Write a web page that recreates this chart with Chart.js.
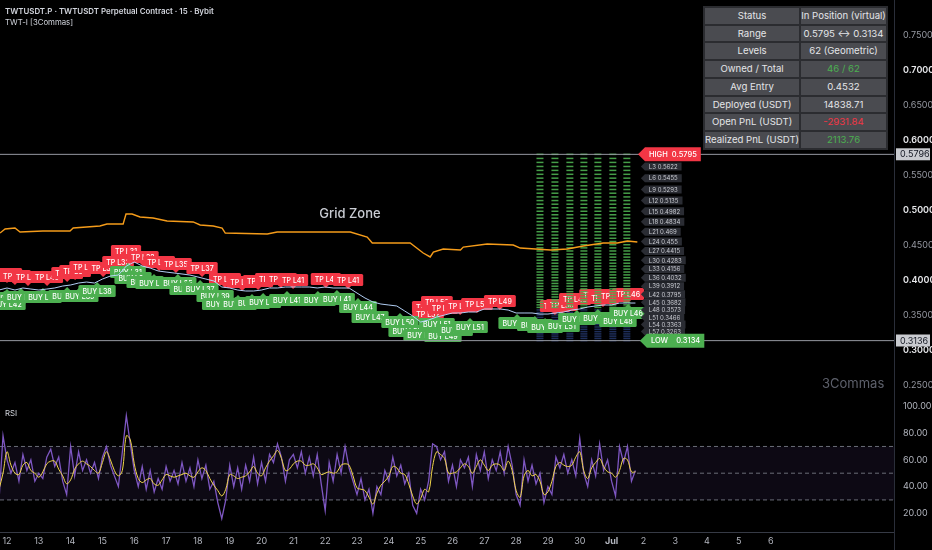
<!DOCTYPE html>
<html>
<head>
<meta charset="utf-8">
<script src="https://cdn.jsdelivr.net/npm/chart.js@4.4.1/dist/chart.umd.min.js"></script>
<style>
html, body { margin:0; padding:0; background:#000; }
#wrap { position:relative; width:932px; height:550px; overflow:hidden; background:#000; font-family:Inter, "Noto Sans", sans-serif; }
#priceCv { position:absolute; left:0; top:0; }
#rsiCv { position:absolute; left:0; top:393px; }
.txt { position:absolute; white-space:nowrap; color:#d1d4dc; }
#stats { position:absolute; left:703px; top:6px; border-collapse:separate; border-spacing:2px; background:#2b2c30; font-size:9.6px; color:#e4e5e8; table-layout:fixed; }
#stats td { background:#4a4b50; text-align:center; height:15.7px; padding:0; line-height:15.7px; white-space:nowrap; overflow:hidden; }
#stats td:first-child { width:94px; }
#stats td:last-child { width:84px; }
</style>
</head>
<body>
<div id="wrap">
  <canvas id="priceCv" width="932" height="393"></canvas>
  <canvas id="rsiCv" width="932" height="157"></canvas>
  <div class="txt" style="left:5px;top:6px;font-size:7.9px;font-weight:600;">TWTUSDT.P · TWTUSDT Perpetual Contract · 15 · Bybit</div>
  <div class="txt" style="left:5px;top:17px;font-size:7.8px;">TWT-I [3Commas]</div>
  <div class="txt" style="left:5px;top:408px;font-size:7.8px;">RSI</div>
  <div class="txt" style="left:822px;top:375px;font-size:13px;color:#5d606b;">3Commas</div>
  <table id="stats"></table>
</div>
<script>
// ---- data ----
// x values are days of June (31 = Jul 1)
var priceStart = 11.75, priceStep = 0.25;
var priceVals = [0.3857,0.3886,0.3857,0.3886,0.3871,0.3857,0.3871,0.3886,0.3914,0.3929,
  0.3957,0.3971,0.3957,0.4014,0.4057,0.4071,0.4200,0.4257,0.4200,0.4171,
  0.4129,0.4114,0.4100,0.4086,0.4071,0.4043,0.4014,0.3986,0.3900,0.3886,
  0.3857,0.3843,0.3843,0.3857,0.3886,0.3886,0.3900,0.3900,0.3900,0.3900,
  0.3886,0.3900,0.3886,0.3886,0.3886,0.3814,0.3743,0.3686,0.3657,0.3643,
  0.3629,0.3557,0.3486,0.3400,0.3429,0.3471,0.3500,0.3529,0.3529,0.3543,
  0.3543,0.3586,0.3586,0.3586,0.3571,0.3529,0.3529,0.3529,0.3514,0.3514,
  0.3529,0.3543,0.3571,0.3586,0.3614,0.3629,0.3643,0.3643,0.3671,0.3671,
  0.3671];

var avgDays = [11.78,11.94,12.25,12.41,13.13,13.98,14.08,14.92,15.14,15.65,15.74,15.93,16.18,16.59,17.03,
  17.85,18.07,18.48,18.76,18.86,20.18,20.49,22.79,23.32,23.48,24.67,25.08,25.30,25.40,25.71,
  26.25,26.34,27.09,27.91,28.13,29.08,29.61,30.11,30.74,31.18,31.50,31.81];
var avgVals = [0.4671,0.4729,0.4743,0.4686,0.4700,0.4700,0.4743,0.4771,0.4800,0.4800,0.4943,0.4943,0.4900,0.4886,0.4843,
  0.4829,0.4786,0.4771,0.4743,0.4671,0.4657,0.4686,0.4686,0.4614,0.4529,0.4529,0.4386,0.4329,0.4400,0.4443,
  0.4429,0.4471,0.4514,0.4500,0.4457,0.4429,0.4443,0.4486,0.4529,0.4529,0.4557,0.4543];

var rsiStart = 11.75, rsiStep = 0.125;
var rsiVals = [30,78,60,50,58,44,64,52,60,44,
  50,46,62,68,55,62,44,34,70,48,
  66,52,60,50,58,46,62,70,56,48,
  40,66,93,72,52,40,55,38,52,36,
  46,38,55,44,52,42,58,44,54,40,
  60,46,56,38,44,28,16,30,56,40,
  54,38,56,44,62,42,58,44,64,58,
  72,62,44,60,64,54,66,50,62,48,
  64,42,22,58,44,64,50,70,54,44,
  34,46,30,38,20,40,34,52,44,62,
  48,56,42,50,26,20,38,30,44,72,
  70,60,66,44,56,40,60,54,62,40,
  64,52,66,46,60,52,66,50,70,56,
  34,26,60,44,56,42,50,28,40,34,
  62,54,64,50,60,48,76,50,40,60,
  48,72,52,60,44,33,70,58,70,44,
  52];
var rsiMaVals = [38,50,66,56,50,49,56,58,52,50,
  47,51,57,59,59,53,48,42,45,53,
  57,59,57,55,52,50,58,66,60,52,
  48,52,78,75,57,46,43,45,46,42,
  41,45,49,48,47,48,49,50,48,47,
  51,54,52,46,41,37,33,38,49,48,
  46,47,48,51,55,50,48,54,59,63,
  67,61,52,53,57,59,59,56,56,57,
  54,49,50,51,50,51,56,57,56,48,
  39,38,37,32,27,35,41,44,48,55,
  54,50,49,42,33,27,31,38,36,55,
  66,64,61,50,50,51,54,57,55,50,
  55,60,56,52,56,57,56,52,59,52,
  37,32,48,52,48,49,44,34,36,44,
  55,58,56,55,56,62,66,52,46,54,
  58,61,55,51,50,47,52,61,60,51,
  51];
var rsiBands = [70, 50, 30];

var gridHigh = 0.5795, gridLow = 0.3134;
var axisMarks = ['0.5796', '0.3136'];
var gridLevels = [0.5795,0.5737,0.5680,0.5622,0.5566,0.5510,0.5455,0.5400,0.5346,0.5293,
  0.5240,0.5187,0.5135,0.5083,0.5032,0.4982,0.4932,0.4883,0.4834,0.4785,
  0.4737,0.4690,0.4643,0.4596,0.4550,0.4504,0.4459,0.4415,0.4370,0.4327,
  0.4283,0.4240,0.4198,0.4156,0.4114,0.4073,0.4032,0.3991,0.3951,0.3912,
  0.3873,0.3834,0.3795,0.3757,0.3719,0.3682,0.3645,0.3609,0.3573,0.3537,
  0.3501,0.3466,0.3431,0.3397,0.3363,0.3329,0.3296,0.3263,0.3230,0.3198,
  0.3166,0.3134];
var gridCols = [28.75, 29.22, 29.69, 30.13, 30.57, 31.04, 31.48];
var levelNames = ['L3','L6','L9','L12','L15','L18','L21','L24','L27','L30','L33','L36','L39','L42','L45','L48','L51','L54','L57'];
var levelPrices = ['0.5622','0.5455','0.5293','0.5135','0.4982','0.4834','0.469','0.455','0.4415','0.4283','0.4156','0.4032','0.3912','0.3795','0.3682','0.3573','0.3466','0.3363','0.3263'];

var tpTags = [[12.00,0.4086,'TP L41'],[12.25,0.4057,'TP L42'],[12.66,0.4043,'TP L40'],[13.26,0.4043,'TP L40'],
  [13.89,0.4100,'TP L38'],[14.14,0.4129,'TP L39'],[14.45,0.4186,'TP L37'],[15.02,0.4171,'TP L37'],
  [15.49,0.4257,'TP L33'],[15.74,0.4414,'TP L31'],[16.27,0.4329,'TP L32'],[16.78,0.4257,'TP L34'],
  [17.31,0.4229,'TP L35'],[18.13,0.4171,'TP L37'],[18.85,0.4014,'TP L40'],[19.39,0.3971,'TP L42'],
  [19.89,0.3986,'TP L41'],[20.27,0.4014,'TP L41'],[20.61,0.4014,'TP L40'],[20.99,0.4000,'TP L41'],
  [22.02,0.4014,'TP L41'],[22.72,0.4000,'TP L41'],[25.20,0.3614,'TP L51'],[25.23,0.3514,'TP L52'],
  [25.51,0.3686,'TP L50'],[25.70,0.3600,'TP L51'],[26.24,0.3629,'TP L50'],[26.77,0.3657,'TP L50'],
  [27.49,0.3700,'TP L49'],[29.22,0.3629,'TP L51'],[29.44,0.3643,'TP L50'],[29.85,0.3729,'TP L48'],
  [30.48,0.3786,'TP L47'],[30.73,0.3743,'TP L47'],[31.04,0.3771,'TP L47'],[31.52,0.3800,'TP L46']];
var buyTags = [[12.00,0.3743,'BUY L42'],[12.00,0.3657,'BUY L42'],[12.44,0.3757,'BUY L41'],[13.13,0.3757,'BUY L40'],
  [13.89,0.3771,'BUY L40'],[14.29,0.3771,'BUY L39'],[14.83,0.3843,'BUY L38'],[15.80,0.4114,'BUY L31'],
  [15.96,0.4029,'BUY L32'],[16.34,0.3971,'BUY L33'],[16.62,0.3957,'BUY L34'],[17.37,0.3957,'BUY L35'],
  [17.69,0.3871,'BUY L36'],[18.07,0.3871,'BUY L37'],[18.54,0.3771,'BUY L39'],[18.69,0.3657,'BUY L41'],
  [19.26,0.3657,'BUY L42'],[19.70,0.3671,'BUY L41'],[20.05,0.3686,'BUY L41'],[20.80,0.3714,'BUY L41'],
  [21.77,0.3714,'BUY L41'],[22.37,0.3729,'BUY L41'],[23.03,0.3614,'BUY L44'],[23.41,0.3471,'BUY L47'],
  [24.35,0.3400,'BUY L50'],[24.57,0.3271,'BUY L52'],[25.04,0.3214,'BUY L52'],[25.51,0.3371,'BUY L51'],
  [25.70,0.3200,'BUY L49'],[26.08,0.3286,'BUY L51'],[26.55,0.3329,'BUY L51'],[28.03,0.3386,'BUY L50'],
  [28.59,0.3357,'BUY L51'],[28.91,0.3329,'BUY L51'],[29.44,0.3343,'BUY L51'],[29.91,0.3443,'BUY L49'],
  [30.57,0.3457,'BUY L48'],[31.20,0.3414,'BUY L48'],[31.52,0.3529,'BUY L46']];

var priceTicks = [0.25, 0.30, 0.35, 0.40, 0.45, 0.50, 0.55, 0.60, 0.65, 0.70, 0.75];
var rsiTicks = [20, 40, 60, 80, 100];
var dayTicks = [12,13,14,15,16,17,18,19,20,21,22,23,24,25,26,27,28,29,30,31,32,33,34,35,36];
var dayLabels = ['12','13','14','15','16','17','18','19','20','21','22','23','24','25','26','27','28','29','30','Jul','2','3','4','5','6'];

var statNames = ['Status','Range','Levels','Owned / Total','Avg Entry','Deployed (USDT)','Open PnL (USDT)','Realized PnL (USDT)'];
var statValues = ['In Position (virtual)','0.5795 \u2194 0.3134','62 (Geometric)','46 / 62','0.4532','14838.71','-2931.84','2113.76'];
var statColors = ['#e4e5e8','#e4e5e8','#e4e5e8','#4caf50','#e4e5e8','#e4e5e8','#f23645','#4caf50'];

var zoneText = 'Grid Zone', zoneDay = 22.78, zonePrice = 0.4943;
var xMin = 11.78, xMax = 39.876;

// ---- table ----
var tbl = document.getElementById('stats');
for (var r = 0; r < statNames.length; r++) {
  var tr = document.createElement('tr');
  var a = document.createElement('td'); a.textContent = statNames[r];
  var b = document.createElement('td'); b.textContent = statValues[r]; b.style.color = statColors[r];
  tr.appendChild(a); tr.appendChild(b); tbl.appendChild(tr);
}

Chart.defaults.font.family = 'Inter, "Noto Sans", sans-serif';
Chart.defaults.animation = false;

var pricePts = priceVals.map(function (v, i) { return {x: priceStart + i * priceStep, y: v}; });
var avgPts = avgVals.map(function (v, i) { return {x: avgDays[i], y: v}; });
var dashGreen = [], dashDark = [];
gridCols.forEach(function (c) {
  gridLevels.forEach(function (lv) {
    if (lv > 0.358) dashGreen.push({x: c, y: lv}); else dashDark.push({x: c, y: lv});
  });
});

function isMajor(c) { return c && c.tick ? Math.round(c.tick.value * 100) % 10 === 0 : false; }

function drawTag(ctx, cx, cy, text, color, dir) {
  ctx.font = '500 7px Inter';
  var w = ctx.measureText(text).width + 8, h = 12;
  ctx.fillStyle = color;
  ctx.beginPath();
  ctx.roundRect(cx - w / 2, cy - h / 2, w, h, 1.5);
  ctx.fill();
  ctx.beginPath();
  if (dir === 'down') {
    ctx.moveTo(cx - 3, cy + h / 2); ctx.lineTo(cx, cy + h / 2 + 3); ctx.lineTo(cx + 3, cy + h / 2);
  } else {
    ctx.moveTo(cx - 3, cy - h / 2); ctx.lineTo(cx, cy - h / 2 - 3); ctx.lineTo(cx + 3, cy - h / 2);
  }
  ctx.fill();
  ctx.fillStyle = '#fff';
  ctx.textAlign = 'center'; ctx.textBaseline = 'middle';
  ctx.fillText(text, cx, cy + 0.5);
}

function drawSideTag(ctx, x, y, text, bg, fg, h, font, minW) {
  ctx.font = font;
  var w = Math.max(ctx.measureText(text).width + 8, minW || 0);
  ctx.fillStyle = bg;
  ctx.beginPath();
  ctx.moveTo(x, y); ctx.lineTo(x + h / 2, y - h / 2); ctx.lineTo(x + h / 2 + w, y - h / 2);
  ctx.lineTo(x + h / 2 + w, y + h / 2); ctx.lineTo(x + h / 2, y + h / 2); ctx.closePath();
  ctx.fill();
  ctx.fillStyle = fg; ctx.textAlign = 'left'; ctx.textBaseline = 'middle';
  ctx.fillText(text, x + h / 2 + 4, y + 0.5);
}

var gridPlugin = {
  id: 'gridBot',
  afterDatasetDraw: function (chart, args) {
    if (args.index !== 3) return; // after the dark grid dashes, draw the trade labels
    var ctx = chart.ctx, x = chart.scales.x, y = chart.scales.y;
    ctx.save();
    tpTags.forEach(function (t) { drawTag(ctx, x.getPixelForValue(t[0]), y.getPixelForValue(t[1]), t[2], '#f23645', 'down'); });
    buyTags.forEach(function (t) { drawTag(ctx, x.getPixelForValue(t[0]), y.getPixelForValue(t[1]), t[2], '#4caf50', 'up'); });
    ctx.restore();
  },
  afterDatasetsDraw: function (chart) {
    var ctx = chart.ctx, x = chart.scales.x, y = chart.scales.y;
    ctx.save();
    ctx.font = '500 13px Inter';
    ctx.fillStyle = '#c9ccd3';
    ctx.textAlign = 'center'; ctx.textBaseline = 'middle';
    ctx.fillText(zoneText, x.getPixelForValue(zoneDay), y.getPixelForValue(zonePrice));
    var lx = x.getPixelForValue(31.92);
    for (var i = 0; i < levelNames.length; i++) {
      drawSideTag(ctx, lx, y.getPixelForValue(+levelPrices[i]), levelNames[i] + ' ' + levelPrices[i], '#2a2c33', '#c8cad0', 8, '6px Inter', 32);
    }
    drawSideTag(ctx, x.getPixelForValue(31.83), y.getPixelForValue(gridHigh), 'HIGH  ' + gridHigh.toFixed(4), '#f23645', '#fff', 14, '500 7.5px Inter', 0);
    drawSideTag(ctx, x.getPixelForValue(31.89), y.getPixelForValue(gridLow), 'LOW    ' + gridLow.toFixed(4), '#4caf50', '#fff', 14, '500 7.5px Inter', 0);
    ctx.restore();
  },
  afterDraw: function (chart) {
    var ctx = chart.ctx, y = chart.scales.y, left = chart.chartArea.right + 2;
    ctx.save();
    axisMarks.forEach(function (m) {
      var py = y.getPixelForValue(+m);
      ctx.fillStyle = '#c9cbd0';
      ctx.fillRect(left, py - 6, 34, 12);
      ctx.fillStyle = '#131722';
      ctx.font = '9px Inter';
      ctx.textAlign = 'left'; ctx.textBaseline = 'middle';
      ctx.fillText(m, left + 4, py + 0.5);
    });
    ctx.restore();
  }
};

var axisEdge = {
  id: 'axisEdge',
  afterDraw: function (chart) {
    var ctx = chart.ctx, a = chart.chartArea;
    ctx.save();
    ctx.strokeStyle = '#2a2e39';
    ctx.beginPath(); ctx.moveTo(a.right + 0.5, a.bottom); ctx.lineTo(a.right + 0.5, chart.height); ctx.stroke();
    ctx.restore();
  }
};

function fixRight(scale) { scale.width = 38; scale.paddingTop = 0; scale.paddingBottom = 0; }

new Chart(document.getElementById('priceCv'), {
  type: 'line',
  data: {
    datasets: [
      {data: pricePts, borderColor: 'rgba(185,215,255,0.95)', borderWidth: 1, pointRadius: 0, order: 1},
      {data: avgPts, borderColor: '#f59c1a', borderWidth: 1.4, pointRadius: 0, order: 2},
      {type: 'scatter', data: dashGreen, pointStyle: 'line', pointRadius: 3.5, borderColor: 'rgba(76,175,80,0.9)', borderWidth: 1.5, order: 8},
      {type: 'scatter', data: dashDark, pointStyle: 'line', pointRadius: 3.5, borderColor: 'rgba(40,62,120,0.75)', borderWidth: 1.5, order: 9},
      {data: [{x: xMin, y: gridHigh}, {x: xMax, y: gridHigh}], borderColor: '#9598a1', borderWidth: 1, pointRadius: 0, order: 7},
      {data: [{x: xMin, y: gridLow}, {x: xMax, y: gridLow}], borderColor: '#9598a1', borderWidth: 1, pointRadius: 0, order: 7}
    ]
  },
  options: {
    responsive: false,
    layout: {padding: 0, autoPadding: false},
    plugins: {legend: {display: false}, tooltip: {enabled: false}},
    scales: {
      x: {type: 'linear', min: xMin, max: xMax, display: false},
      y: {
        position: 'right', min: 0.2386, max: 0.80,
        grid: {display: false, drawTicks: false},
        border: {display: true, color: '#2a2e39'},
        afterBuildTicks: function (s) { s.ticks = priceTicks.map(function (v) { return {value: v}; }); },
        afterFit: fixRight,
        ticks: {
          padding: 9, crossAlign: 'near',
          callback: function (v) { return Number(v).toFixed(4); },
          color: function (c) { return isMajor(c) ? '#e6e7ea' : '#9598a1'; },
          font: function (c) { return {size: 9, weight: isMajor(c) ? '600' : '400'}; }
        }
      }
    }
  },
  plugins: [gridPlugin]
});

var rsiPts = rsiVals.map(function (v, i) { return {x: rsiStart + i * rsiStep, y: v}; });
var rsiMaPts = rsiMaVals.map(function (v, i) { return {x: rsiStart + i * rsiStep, y: v}; });
var bandSets = rsiBands.map(function (b, i) {
  return {
    data: [{x: xMin, y: b}, {x: xMax, y: b}], borderColor: '#6a6d78', borderWidth: 1, borderDash: [4, 3],
    pointRadius: 0, order: 5,
    fill: i === 2 ? 0 : false, backgroundColor: 'rgba(126,87,194,0.10)'
  };
});

new Chart(document.getElementById('rsiCv'), {
  type: 'line',
  data: {
    datasets: bandSets.concat([
      {data: rsiPts, borderColor: '#7e57c2', borderWidth: 1.3, pointRadius: 0, order: 2},
      {data: rsiMaPts, borderColor: '#f2d64b', borderWidth: 1, pointRadius: 0, tension: 0.35, order: 1}
    ])
  },
  options: {
    responsive: false,
    layout: {padding: 0, autoPadding: false},
    plugins: {legend: {display: false}, tooltip: {enabled: false}, filler: {propagate: false}},
    scales: {
      x: {
        type: 'linear', min: xMin, max: xMax,
        grid: {display: false, drawTicks: false},
        border: {display: true, color: '#363a45'},
        afterBuildTicks: function (s) { s.ticks = dayTicks.map(function (v) { return {value: v}; }); },
        afterFit: function (s) { s.height = 18; s.paddingLeft = 0; s.paddingRight = 0; },
        ticks: {
          padding: 4, autoSkip: false, maxRotation: 0,
          callback: function (v) { return dayLabels[dayTicks.indexOf(v)]; },
          color: '#b2b5be',
          font: function (c) { return {size: 9, weight: c && c.tick && c.tick.value === 31 ? '700' : '400'}; }
        }
      },
      y: {
        position: 'right', min: 6, max: 110,
        grid: {display: false, drawTicks: false},
        border: {display: true, color: '#2a2e39'},
        afterBuildTicks: function (s) { s.ticks = rsiTicks.map(function (v) { return {value: v}; }); },
        afterFit: fixRight,
        ticks: {
          padding: 9, crossAlign: 'near', color: '#b2b5be', font: {size: 9},
          callback: function (v) { return Number(v).toFixed(2); }
        }
      }
    }
  },
  plugins: [axisEdge]
});
</script>
</body>
</html>
